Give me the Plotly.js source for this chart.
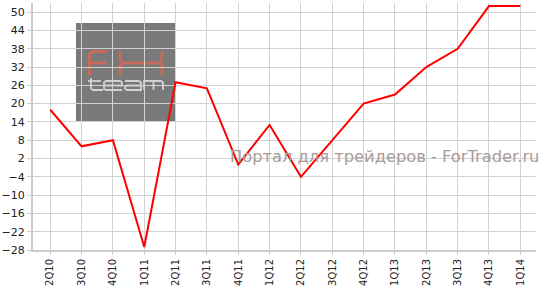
<!DOCTYPE html>
<html>
<head>
<meta charset="utf-8">
<script src="https://cdn.plot.ly/plotly-3.0.1.min.js"></script>
<style>html,body{margin:0;padding:0;background:#fff}#chart{width:546px;height:291px}</style>
</head>
<body>
<div id="chart"></div>
<script>
const quarters = ["2Q10","3Q10","4Q10","1Q11","2Q11","3Q11","4Q11","1Q12","2Q12","3Q12","4Q12","1Q13","2Q13","3Q13","4Q13","1Q14"];
const values = [18, 6, 8, -27, 27, 25, 0, 13, -4, 8, 20, 23, 32, 38, 52, 52];
const yTicks = [-28, -22, -16, -10, -4, 2, 8, 14, 20, 26, 32, 38, 44, 50];

const W = 546, H = 291;
const m = {l: 33, r: 10, t: 3, b: 41};
const pw = W - m.l - m.r, ph = H - m.t - m.b;
// convert pixel coords to axis-domain coords for decorative shapes
const px = x => (x - m.l) / pw;
const py = y => 1 - (y - m.t) / ph;
function path(pts) {
  return pts.map((p, i) => (i ? 'L' : 'M') + px(p[0]).toFixed(4) + ',' + py(p[1]).toFixed(4)).join(' ');
}
const salmon = '#c86a5c', light = '#d2d2d2';
const logoLines = [
  // F
  {p: [[89.5,75],[89.5,54],[92.5,51.5],[107,51.5]], c: salmon, w: 3},
  {p: [[89.5,63],[106,63]], c: salmon, w: 3},
  // X (H-like)
  {p: [[120,51],[120,60],[123,63],[159,63],[162,60],[162,51]], c: salmon, w: 3},
  {p: [[120,75],[120,66],[123,63]], c: salmon, w: 3},
  {p: [[162,75],[162,66],[159,63]], c: salmon, w: 3},
  // team
  {p: [[91,78],[91,88.5],[93,90],[103,90]], c: light, w: 1.8},
  {p: [[88,81],[101,81]], c: light, w: 1.8},
  {p: [[122,90],[106,90],[104,88.5],[104,82.5],[106,81],[120,81],[122,82.5],[122,85.5],[104,85.5]], c: light, w: 1.8},
  {p: [[125,81],[139,81],[141,82.5],[141,90],[127,90],[125,88.5],[125,87],[127,85.5],[141,85.5]], c: light, w: 1.8},
  {p: [[144,90],[144,81],[161,81],[163,82.5],[163,90]], c: light, w: 1.8},
  {p: [[153.5,81],[153.5,90]], c: light, w: 1.8}
];
const shapes = [
  {type: 'rect', xref: 'x domain', yref: 'y domain', x0: px(76), x1: px(175), y0: py(122), y1: py(23),
   fillcolor: '#797979', line: {width: 0}, layer: 'below'}
].concat(logoLines.map(l => ({type: 'path', xref: 'x domain', yref: 'y domain', path: path(l.p),
   line: {color: l.c, width: l.w}, layer: 'below'})));

const trace = {
  x: quarters.map((q, i) => i),
  y: values,
  type: 'scatter',
  mode: 'lines',
  line: {color: '#ff0000', width: 2},
  hoverinfo: 'skip'
};

const layout = {
  width: W, height: H,
  margin: m,
  paper_bgcolor: '#ffffff',
  plot_bgcolor: 'rgba(0,0,0,0)',
  showlegend: false,
  font: {family: 'DejaVu Sans, Verdana, sans-serif', size: 11, color: '#222'},
  xaxis: {
    range: [-0.55, 15.5],
    tickmode: 'array',
    tickvals: quarters.map((q, i) => i),
    ticktext: quarters,
    tickangle: -90,
    tickfont: {size: 10, color: '#222'},
    showgrid: true, gridcolor: '#d2d2d2', gridwidth: 1,
    zeroline: false,
    showline: true, linecolor: '#cccccc', linewidth: 2,
    ticks: 'outside', ticklen: 3, tickcolor: '#cccccc',
    fixedrange: true
  },
  yaxis: {
    range: [-28, 53],
    tickmode: 'array',
    tickvals: yTicks,
    tickfont: {size: 11, color: '#222'},
    showgrid: true, gridcolor: '#d2d2d2', gridwidth: 1,
    zeroline: false,
    showline: true, linecolor: '#cccccc', linewidth: 2,
    ticks: 'outside', ticklen: 4, tickcolor: '#cccccc',
    fixedrange: true
  },
  shapes: shapes,
  annotations: [{
    xref: 'paper', yref: 'paper', x: px(541), y: py(156),
    xanchor: 'right', yanchor: 'middle', showarrow: false,
    text: 'Портал для трейдеров - ForTrader.ru',
    font: {family: 'DejaVu Sans, Verdana, sans-serif', size: 16.3, color: '#a99c9a'}
  }]
};

Plotly.newPlot('chart', [trace], layout, {staticPlot: true, displayModeBar: false});
</script>
</body>
</html>
